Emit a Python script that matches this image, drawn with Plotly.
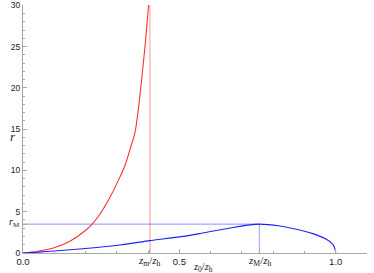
import plotly.graph_objects as go

# Data
red_x = [0.0, 0.05, 0.097, 0.15, 0.2035, 0.221, 0.246, 0.278, 0.3045, 0.326, 0.345, 0.358, 0.365, 0.374, 0.390, 0.4015, 0.406]
red_r = [0.0, 0.22, 0.6, 1.43, 2.85, 3.5, 4.7, 6.75, 8.77, 10.6, 12.9, 14.6, 16.3, 19.1, 25.0, 30.0, 32.0]

blue_x = [0.0, 0.05, 0.1, 0.2, 0.31, 0.406, 0.5, 0.565, 0.6, 0.672, 0.72, 0.756, 0.821, 0.874, 0.927, 0.970, 0.991, 0.998, 1.0]
blue_r = [0.0, 0.1, 0.25, 0.55, 0.97, 1.5, 1.95, 2.35, 2.6, 3.1, 3.38, 3.5, 3.28, 2.88, 2.35, 1.66, 1.05, 0.45, 0.0]

z_m = 0.406
z_M = 0.756
r_M = 3.5
r_top = 30

x_tickvals = [0.0, 0.5, 1.0, z_m, z_M]
x_ticktext = ["0.0", "0.5", "1.0", "", ""]
z_labels = ["<i>z</i><sub>m</sub>/<i>z</i><sub>h</sub>",
            "<i>z</i><sub>M</sub>/<i>z</i><sub>h</sub>"]
y_tickvals = [0, 5, 10, 15, 20, 25, 30, r_M]
y_ticktext = ["0", "5", "10", "15", "20", "25", "30", ""]
rM_label = "<i>r</i><sub>M</sub>"

fig = go.Figure()
# reference lines
fig.add_trace(go.Scatter(x=[z_m, z_m], y=[0, r_top + 5], mode="lines",
                         line=dict(color="rgba(255,60,60,0.45)", width=1.2), hoverinfo="skip"))
fig.add_trace(go.Scatter(x=[0, z_M], y=[r_M, r_M], mode="lines",
                         line=dict(color="rgba(60,60,255,0.6)", width=1), hoverinfo="skip"))
fig.add_trace(go.Scatter(x=[z_M, z_M], y=[0, r_M], mode="lines",
                         line=dict(color="rgba(90,90,255,0.5)", width=1.2), hoverinfo="skip"))
# curves
fig.add_trace(go.Scatter(x=red_x, y=red_r, mode="lines", line_shape="spline",
                         line=dict(color="#ff3030", width=1.1, smoothing=1.0)))
fig.add_trace(go.Scatter(x=blue_x, y=blue_r, mode="lines", line_shape="spline",
                         line=dict(color="#2020ff", width=1.1, smoothing=0.6)))

axis_color = "#a8a8a8"
serif = "Liberation Serif, DejaVu Serif, serif"
annotations = [
    dict(text="<i>r</i>", xref="paper", yref="paper", x=-0.045, y=0.47,
         showarrow=False, font=dict(family=serif, size=13, color="#222")),
    dict(text="<i>z</i><sub>0</sub>/<i>z</i><sub>h</sub>", xref="x", yref="paper",
         x=0.575, y=0, yanchor="top", yshift=-6, showarrow=False,
         font=dict(family=serif, size=10.5, color="#222")),
    dict(text=rM_label, xref="paper", yref="y", x=0, y=r_M, xanchor="right",
         xshift=-1, yshift=2, showarrow=False, font=dict(family=serif, size=10, color="#222")),
]
for zv, lab in zip([z_m, z_M], z_labels):
    annotations.append(dict(text=lab, xref="x", yref="paper", x=zv, y=0, yanchor="top",
                            yshift=1, showarrow=False,
                            font=dict(family=serif, size=11, color="#222")))

fig.update_layout(
    width=374, height=273,
    margin=dict(l=23, r=7, t=5, b=20),
    paper_bgcolor="white", plot_bgcolor="white",
    showlegend=False,
    font=dict(family="Liberation Sans, Arial, sans-serif", size=9, color="#222"),
    xaxis=dict(range=[0, 1.1], showgrid=False, zeroline=False, automargin=False,
               showline=True, linecolor=axis_color, linewidth=1,
               tickmode="array", tickvals=x_tickvals, ticktext=x_ticktext,
               ticks="inside", ticklen=4, tickcolor=axis_color, tickwidth=1,
               minor=dict(tick0=0, dtick=0.1, ticks="inside", ticklen=2,
                          tickcolor=axis_color, showgrid=False),
               tickfont=dict(size=9.5)),
    yaxis=dict(range=[0, 30.05], showgrid=False, zeroline=False, automargin=False,
               showline=True, linecolor=axis_color, linewidth=1,
               tickmode="array", tickvals=y_tickvals, ticktext=y_ticktext,
               ticks="inside", ticklen=4, tickcolor=axis_color, tickwidth=1,
               minor=dict(tick0=0, dtick=1, ticks="inside", ticklen=2,
                          tickcolor=axis_color, showgrid=False),
               tickfont=dict(size=8.5)),
    annotations=annotations,
)

fig.write_html("out.html", config={"displayModeBar": False},
               post_script="document.body.style.margin='0px';document.body.style.overflow='hidden';")
